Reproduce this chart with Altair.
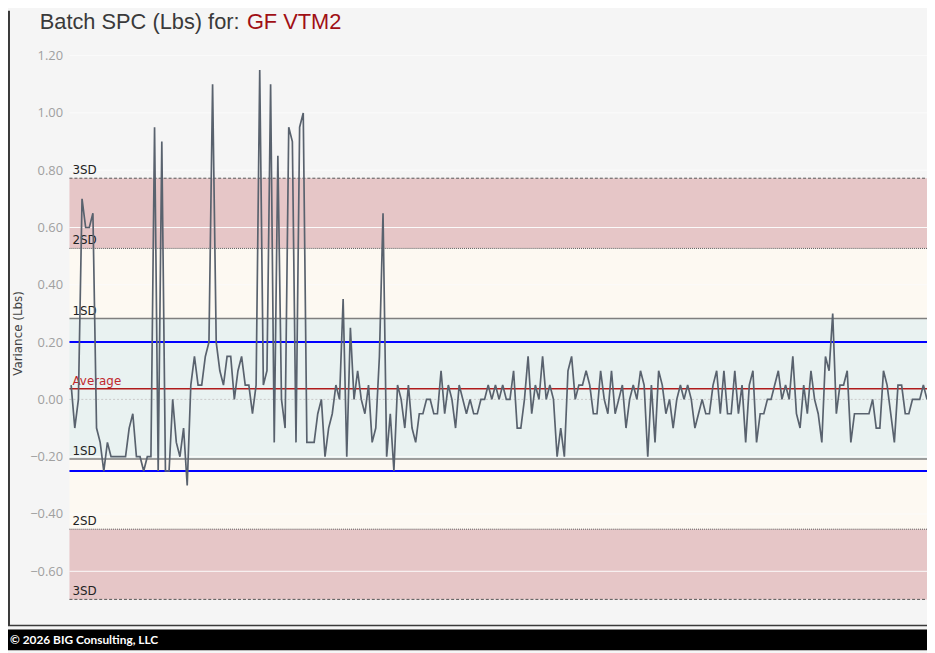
import altair as alt
import pandas as pd

# ---------------- data ----------------
variance = [
    0.05, -0.10, 0.0, 0.70, 0.60, 0.60, 0.65, -0.10, -0.15, -0.25,
    -0.15, -0.20, -0.20, -0.20, -0.20, -0.20, -0.10, -0.05, -0.20, -0.20,
    -0.25, -0.20, -0.20, 0.95, -0.25, 0.90, -0.25, -0.25, 0.0, -0.15,
    -0.20, -0.10, -0.30, 0.05, 0.15, 0.05, 0.05, 0.15,
    0.20, 1.10, 0.20, 0.10, 0.05, 0.15, 0.15, 0.0, 0.10, 0.15,
    0.05, 0.05, -0.05, 0.05, 1.15, 0.05, 0.10, 1.10, -0.15, 0.85,
    0.0, -0.10, 0.95, 0.90, -0.15, 0.95, 1.00, -0.15, -0.15, -0.15,
    -0.05, 0.0, -0.20, -0.10, -0.05, 0.05, 0.0, 0.35,
    -0.20, 0.25, 0.0, 0.10, 0.0, -0.05, 0.05, -0.15, -0.10, 0.15,
    0.65, -0.20, -0.05, -0.25, 0.05, 0.0, -0.10, 0.05, -0.10, -0.15,
    -0.05, -0.05, 0.0, 0.0, -0.05, -0.05, 0.10, -0.05, 0.05, 0.0,
    -0.10, 0.05, 0.0, -0.05, 0.0, -0.05, -0.05, 0.0, 0.0,
    0.05, 0.0, 0.05, 0.0, 0.05, 0.0, 0.0, 0.10, -0.10, -0.10,
    0.0, 0.15, -0.05, 0.05, 0.0, 0.15, 0.0, 0.05, 0.0, -0.20,
    -0.10, -0.20, 0.10, 0.15, 0.0, 0.05, 0.05, 0.10, 0.05, -0.05,
    -0.05, 0.10, 0.0, -0.05, 0.10, -0.05, 0.0, 0.05,
    -0.10, 0.0, 0.05, 0.0, 0.10, 0.05, -0.20, 0.05, -0.15, 0.10,
    0.05, -0.05, 0.0, -0.10, 0.0, 0.05, 0.0, 0.05, 0.0, -0.10,
    -0.05, 0.0, -0.05, -0.05, 0.05, 0.10, -0.05, 0.10, -0.05, -0.05,
    0.10, -0.05, 0.05, -0.15, 0.05, 0.10,
    -0.15, -0.05, -0.05, 0.0, 0.0, 0.05, 0.10, 0.0, 0.05, 0.0,
    0.15, -0.05, -0.10, 0.05, -0.05, 0.10, 0.0, -0.05, -0.15, 0.15,
    0.10, 0.30, -0.05, 0.05, 0.05, 0.10, -0.15, -0.05, -0.05, -0.05,
    -0.05, -0.05, 0.0, -0.10, -0.10, 0.10, 0.05, -0.05, -0.15, 0.05,
    0.05, -0.05, -0.05, 0.0, 0.0, 0.0, 0.05, 0.0,
]
average = 0.037
std_dev = 0.245
upper_limit = 0.20
lower_limit = -0.25
y_ticks = [-0.6, -0.4, -0.2, 0.0, 0.2, 0.4, 0.6, 0.8, 1.0, 1.2]
sd_labels = ["3SD", "2SD", "1SD", "Average", "1SD", "2SD", "3SD"]
sd_multipliers = [3, 2, 1, 0, -1, -2, -3]
title_main = "Batch SPC (Lbs) for: "
title_item = "GF VTM2"
axis_title = "Variance (Lbs)"
footer_text = "\u00a9 2026 BIG Consulting, LLC"

# ---------------- layout / style ----------------
PW, PH = 865, 590
BG = "#f5f5f5"
PINK = "#e6c6c7"
CREAM = "#fdf9f2"
TEAL = "#e9f2f1"
FONT = "DejaVu Sans"

yscale = alt.Scale(domain=[-0.782, 1.2595], nice=False, zero=False)
xscale = alt.Scale(domain=[-0.465, len(variance) - 1], nice=False, zero=False)

y_axis = alt.Axis(
    values=y_ticks, format=".2f", grid=False, domain=False, ticks=False,
    tickSize=0, labelPadding=7, labelColor="#a0a0a0", labelFont="Open Sans",
    labelFontSize=13, title=axis_title, titleColor="#444444",
    titleFont=FONT, titleFontSize=12, titleFontWeight="normal",
    titleX=-45, titleY=297, titleAngle=270, titleAlign="center",
)


def Y(field):
    return alt.Y(field, type="quantitative", scale=yscale, axis=y_axis, title=axis_title)


levels = [average + m * std_dev for m in sd_multipliers]

bands = pd.DataFrame({
    "lo": [levels[1], levels[2], levels[4], levels[5], levels[6]],
    "hi": [levels[0], levels[1], levels[2], levels[4], levels[5]],
    "fill": [PINK, CREAM, TEAL, CREAM, PINK],
})
band_layer = alt.Chart(bands).mark_rect().encode(
    x=alt.value(0), x2=alt.value(PW), y=Y("lo"), y2=alt.Y2("hi"),
    color=alt.Color("fill:N", scale=None),
)

grid_df = pd.DataFrame({"v": [t for t in y_ticks if abs(t) > 1e-9]})
grid_layer = alt.Chart(grid_df).mark_rule(color="#fbfbfb", strokeWidth=1).encode(
    x=alt.value(0), x2=alt.value(PW), y=Y("v")
)
zero_layer = alt.Chart(pd.DataFrame({"v": [0.0]})).mark_rule(
    color="#c8c8c8", strokeWidth=1, strokeDash=[2, 2]
).encode(x=alt.value(0), x2=alt.value(PW), y=Y("v"))

sd3 = alt.Chart(pd.DataFrame({"v": [levels[0], levels[6]]})).mark_rule(
    color="#555555", strokeWidth=1, strokeDash=[3, 2]
).encode(x=alt.value(0), x2=alt.value(PW), y=Y("v"))
sd2 = alt.Chart(pd.DataFrame({"v": [levels[1], levels[5]]})).mark_rule(
    color="#555555", strokeWidth=1, strokeDash=[1, 1]
).encode(x=alt.value(0), x2=alt.value(PW), y=Y("v"))
sd1 = alt.Chart(pd.DataFrame({"v": [levels[2], levels[4]]})).mark_rule(
    color="#7f7f7f", strokeWidth=1.5
).encode(x=alt.value(0), x2=alt.value(PW), y=Y("v"))
limits = alt.Chart(pd.DataFrame({"v": [upper_limit, lower_limit]})).mark_rule(
    color="#0000ff", strokeWidth=2
).encode(x=alt.value(0), x2=alt.value(PW), y=Y("v"))
avg_rule = alt.Chart(pd.DataFrame({"v": [average]})).mark_rule(
    color="#b01c1c", strokeWidth=1.5
).encode(x=alt.value(0), x2=alt.value(PW), y=Y("v"))

lab_df = pd.DataFrame({
    "v": levels, "label": sd_labels,
    "col": ["#222222", "#222222", "#222222", "#c0282d", "#222222", "#222222", "#222222"],
})
labels = alt.Chart(lab_df).mark_text(
    align="left", baseline="alphabetic", dy=-4, font=FONT, fontSize=12
).encode(x=alt.value(3), y=Y("v"), text="label:N", color=alt.Color("col:N", scale=None))

series = pd.DataFrame({"batch": list(range(len(variance))), "variance": variance})
line = alt.Chart(series).mark_line(color="#59626e", strokeWidth=1.7).encode(
    x=alt.X("batch:Q", scale=xscale, axis=None), y=Y("variance")
)

t1 = alt.Chart(pd.DataFrame({"t": [title_main]})).mark_text(
    align="left", baseline="alphabetic", font="Liberation Sans", fontSize=22, color="#3a3a3a"
).encode(x=alt.value(-30), y=alt.value(-10), text="t:N")
t2 = alt.Chart(pd.DataFrame({"t": [title_item]})).mark_text(
    align="left", baseline="alphabetic", font="Liberation Sans", fontSize=22, color="#a00f14"
).encode(x=alt.value(179), y=alt.value(-10), text="t:N")

frame_bottom = alt.Chart(pd.DataFrame({"k": [1]})).mark_rule(color="#3a3a3a", strokeWidth=1.5).encode(
    x=alt.value(-62), x2=alt.value(PW), y=alt.value(592)
)
frame_left = alt.Chart(pd.DataFrame({"k": [1]})).mark_rule(color="#3a3a3a", strokeWidth=2).encode(
    x=alt.value(-61), y=alt.value(-28), y2=alt.value(592)
)
footer_bar = alt.Chart(pd.DataFrame({"k": [1]})).mark_rect(color="#000000").encode(
    x=alt.value(-62), x2=alt.value(PW), y=alt.value(596), y2=alt.value(617)
)
footer = alt.Chart(pd.DataFrame({"t": [footer_text]})).mark_text(
    align="left", baseline="middle", font="Lato", fontSize=12, fontWeight="bold", color="#ffffff"
).encode(x=alt.value(-60), y=alt.value(607), text="t:N")

chart = alt.layer(
    band_layer, grid_layer, zero_layer, sd3, sd2, sd1, limits, avg_rule, labels,
    line, t1, t2, frame_bottom, frame_left, footer_bar, footer,
).properties(
    width=PW, height=PH,
    padding={"left": 62, "top": 28, "right": 0, "bottom": 27},
    autosize=alt.AutoSizeParams(type="none"),
    background=BG,
).configure_view(stroke=None, fill=BG)

chart.save("out.html", embed_options={"renderer": "svg", "actions": False})
